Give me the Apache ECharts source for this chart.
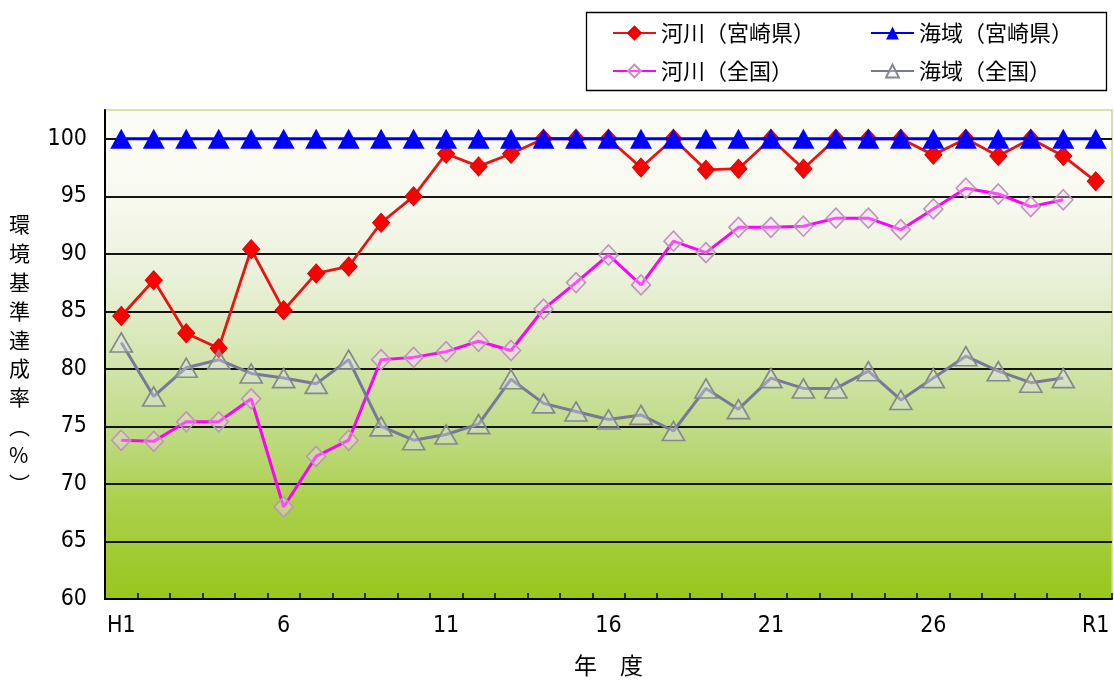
<!DOCTYPE html>
<html>
<head>
<meta charset="utf-8">
<script src="https://cdn.jsdelivr.net/npm/echarts@6/dist/echarts.min.js"></script>
<style>
  html, body { margin: 0; padding: 0; background: #ffffff; }
  #chart { width: 1114px; height: 682px; }
</style>
</head>
<body>
<div id="chart"></div>
<script>
// 年度 (平成1年度 〜 令和1年度)
const years = ['H1', '2', '3', '4', '5', '6', '7', '8', '9', '10',
  '11', '12', '13', '14', '15', '16', '17', '18', '19', '20',
  '21', '22', '23', '24', '25', '26', '27', '28', '29', '30', 'R1'];

// 環境基準達成率 (%)
const riverMiyazaki = [84.6, 87.7, 83.1, 81.8, 90.4, 85.1, 88.3, 88.9, 92.7, 95.0,
  98.7, 97.6, 98.7, 100, 100, 100, 97.5, 100, 97.3, 97.4,
  100, 97.4, 100, 100, 100, 98.6, 100, 98.5, 100, 98.5, 96.3];
const seaMiyazaki = [100, 100, 100, 100, 100, 100, 100, 100, 100, 100,
  100, 100, 100, 100, 100, 100, 100, 100, 100, 100,
  100, 100, 100, 100, 100, 100, 100, 100, 100, 100, 100];
const riverNational = [73.8, 73.7, 75.4, 75.4, 77.4, 68.0, 72.4, 73.8, 80.8, 81.0,
  81.5, 82.4, 81.6, 85.2, 87.5, 89.9, 87.3, 91.1, 90.1, 92.3,
  92.3, 92.4, 93.1, 93.1, 92.1, 93.9, 95.7, 95.2, 94.1, 94.7];
const seaNational = [82.3, 77.6, 80.1, 80.8, 79.6, 79.2, 78.7, 80.8, 75.0, 73.8,
  74.3, 75.2, 79.1, 77.0, 76.3, 75.6, 76.0, 74.6, 78.3, 76.5,
  79.2, 78.3, 78.3, 79.8, 77.3, 79.2, 81.1, 79.8, 78.8, 79.2];

const seriesNames = ['河川（宮崎県）', '海域（宮崎県）', '河川（全国）', '海域（全国）'];
const yTitle = '環境基準達成率︵%︶';
const xTitle = '年　度';

const numFont = "'Liberation Sans Narrow', 'DejaVu Sans Condensed', sans-serif";
const jpFont = "'Noto Sans CJK JP', sans-serif";

const chart = echarts.init(document.getElementById('chart'), null, { renderer: 'canvas' });

const plotBg = new echarts.graphic.LinearGradient(0, 0, 0, 1, [
  { offset: 0, color: '#fdfdf8' },
  { offset: 0.2, color: '#f7f8ee' },
  { offset: 0.35, color: '#e9f0d8' },
  { offset: 0.5, color: '#d5e6b0' },
  { offset: 0.65, color: '#c0db86' },
  { offset: 0.8, color: '#abd04c' },
  { offset: 1, color: '#98c61c' }
]);

// two legend columns inside one framed box
const legendCommon = {
  orient: 'vertical',
  top: 22,
  padding: 0,
  itemGap: 16,
  itemWidth: 43,
  itemHeight: 16,
  textStyle: { fontFamily: jpFont, fontSize: 22, color: '#000000' }
};

chart.setOption({
  backgroundColor: '#ffffff',
  animation: false,
  grid: {
    left: 105, right: 2, top: 110, bottom: 83,
    show: true,
    backgroundColor: plotBg,
    borderColor: '#cbd98c',
    borderWidth: 1.5
  },
  legend: [
    Object.assign({ data: [seriesNames[0], seriesNames[2]], left: 612 }, legendCommon),
    Object.assign({ data: [seriesNames[1], seriesNames[3]], left: 870 }, legendCommon)
  ],
  graphic: [
    {
      type: 'rect',
      z: -1,
      shape: { x: 586.5, y: 12.5, width: 520, height: 78 },
      style: { fill: '#ffffff', stroke: '#000000', lineWidth: 1.3 }
    },
    {
      type: 'text',
      left: 9,
      top: 210,
      style: {
        text: yTitle.split('').join('\n'),
        font: "21px 'Noto Sans CJK JP'",
        lineHeight: 28.8,
        fill: '#000000',
        align: 'center'
      }
    }
  ],
  xAxis: {
    type: 'category',
    data: years,
    boundaryGap: true,
    name: xTitle,
    nameLocation: 'middle',
    nameGap: 55,
    nameTextStyle: { fontFamily: jpFont, fontSize: 23, color: '#000000' },
    axisLine: { lineStyle: { color: '#000000', width: 2 } },
    axisTick: { show: true, inside: true, length: 6, interval: 0, lineStyle: { color: '#000000', width: 1.5 } },
    axisLabel: {
      interval: 4,
      margin: 16,
      fontFamily: numFont,
      fontSize: 23,
      color: '#000000'
    },
    splitLine: { show: false }
  },
  yAxis: {
    type: 'value',
    min: 60,
    max: 102.5,
    interval: 5,
    axisLine: { show: true, lineStyle: { color: '#000000', width: 2 } },
    axisTick: { show: false },
    axisLabel: {
      margin: 18,
      showMaxLabel: false,
      fontFamily: numFont,
      fontSize: 23,
      color: '#000000'
    },
    splitLine: { show: true, showMaxLine: false, lineStyle: { color: '#141414', width: 1.8 } }
  },
  series: [
    {
      name: seriesNames[0],
      type: 'line',
      data: riverMiyazaki,
      symbol: 'diamond',
      symbolSize: [17, 19],
      lineStyle: { color: '#e81414', width: 2.8 },
      itemStyle: { color: '#ff0000', borderColor: '#e00000', borderWidth: 1 },
      z: 2
    },
    {
      name: seriesNames[2],
      type: 'line',
      data: riverNational,
      symbol: 'diamond',
      symbolSize: [19, 20],
      lineStyle: { color: '#ff00ff', width: 3 },
      itemStyle: { color: 'rgba(255,210,255,0.35)', borderColor: '#bb96b8', borderWidth: 1.6 },
      z: 3
    },
    {
      name: seriesNames[3],
      type: 'line',
      data: seaNational,
      symbol: 'triangle',
      symbolSize: [22, 19],
      lineStyle: { color: '#77789a', width: 3 },
      itemStyle: { color: 'rgba(225,225,245,0.35)', borderColor: '#85898a', borderWidth: 1.7 },
      z: 4
    },
    {
      name: seriesNames[1],
      type: 'line',
      data: seaMiyazaki,
      symbol: 'triangle',
      symbolSize: [22, 20],
      lineStyle: { color: '#0000e6', width: 3 },
      itemStyle: { color: '#0000ff' },
      z: 5
    }
  ]
});
</script>
</body>
</html>
